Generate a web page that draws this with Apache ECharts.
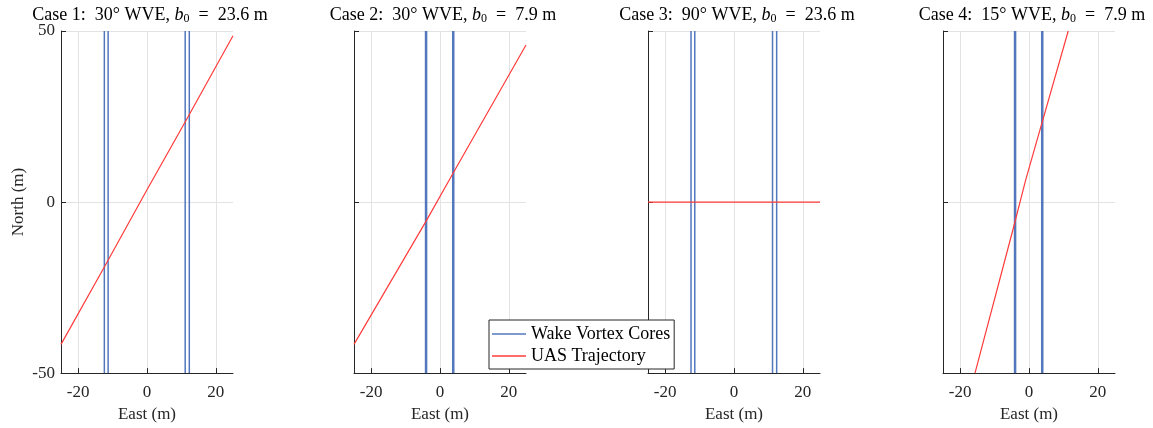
<!DOCTYPE html>
<html>
<head>
    <meta charset="UTF-8">
    <title>WVE cases</title>
    <script src="https://cdn.jsdelivr.net/npm/echarts@6/dist/echarts.min.js"></script>
    <style>
        body { margin: 0; background: #fff; }
        #main { width: 1153px; height: 428px; }
    </style>
</head>
<body>
<div id="main"></div>
<script type="text/javascript">
    // 刻度
    var xTicks = [-20, 0, 20];
    var yTicks = [-50, 0, 50];
    // 标题 (angle, b0)
    var caseAngles = ['30', '30', '90', '15'];
    var caseSpans = ['23.6', '7.9', '23.6', '7.9'];
    // 涡核位置 (East, m)
    var cores1 = [-12.4, -11.3, 11.1, 12.3];
    var cores2 = [-4.2, -3.9, 3.7, 4.0];
    var cores3 = [-12.5, -11.4, 11.2, 12.4];
    var cores4 = [-4.2, -3.9, 3.7, 4.0];
    // UAS 轨迹 [East, North]
    var traj1 = [[-25, -41.6], [-12.2, -18.6], [0, 3.6], [11.7, 24.5], [25, 48.6]];
    var traj2 = [[-25, -41.6], [-4, -5.5], [4, 8.8], [25, 45.9]];
    var traj3 = [[-25, 0], [25, 0]];
    var traj4 = [[-15.7, -50], [-4.6, -7.8], [-0.9, 6.7], [11.4, 50]];

    var coresAll = [cores1, cores2, cores3, cores4];
    var trajAll = [traj1, traj2, traj3, traj4];
    var gridLefts = [61, 354, 648, 943];

    var font = '"Liberation Serif", "DejaVu Serif", serif';
    var ink = '#262626';
    var blue = '#5277bd';
    var red = '#ff3b3b';

    var chart = echarts.init(document.getElementById('main'));

    var grids = [], xAxes = [], yAxes = [], titles = [], series = [];
    for (var i = 0; i < 4; i++) {
        grids.push({left: gridLefts[i], top: 31, width: 172, height: 346});
        titles.push({
            text: '{n|Case ' + (i + 1) + ':  ' + caseAngles[i] + '° WVE, }{i|b}{s|0}{n|  =  ' + caseSpans[i] + ' m}',
            left: gridLefts[i] + 84,
            textAlign: 'center',
            top: 1,
            textStyle: {
                fontWeight: 'normal',
                rich: {
                    n: {fontFamily: font, fontSize: 18, fontWeight: 'normal', color: '#000'},
                    i: {fontFamily: font, fontSize: 18, fontWeight: 'normal', fontStyle: 'italic', color: '#000'},
                    s: {fontFamily: font, fontSize: 12, fontWeight: 'normal', color: '#000', padding: [7, 0, 0, 0]}
                }
            }
        });
        xAxes.push({
            gridIndex: i,
            type: 'value',
            min: -25,
            max: 25,
            name: 'East (m)',
            nameLocation: 'middle',
            nameGap: 28,
            nameTextStyle: {fontFamily: font, fontSize: 17, color: ink},
            axisLine: {show: true, onZero: false, lineStyle: {color: ink, width: 1}},
            axisTick: {show: true, inside: true, length: 5, customValues: xTicks, lineStyle: {color: ink}},
            axisLabel: {show: true, customValues: xTicks, margin: 11, fontFamily: font, fontSize: 17, color: ink},
            splitLine: {show: true, lineStyle: {color: '#e3e3e3', width: 1}}
        });
        yAxes.push({
            gridIndex: i,
            type: 'value',
            min: -50,
            max: 50,
            interval: 50,
            name: i === 0 ? 'North (m)' : '',
            nameLocation: 'middle',
            nameGap: 34,
            nameTextStyle: {fontFamily: font, fontSize: 17, color: ink},
            axisLine: {show: true, onZero: false, lineStyle: {color: ink, width: 1}},
            axisTick: {show: true, inside: true, length: 5, lineStyle: {color: ink}},
            axisLabel: {show: i === 0, margin: 6, fontFamily: font, fontSize: 17, color: ink},
            splitLine: {show: true, lineStyle: {color: '#e3e3e3', width: 1}}
        });
        // 涡核竖线
        for (var k = 0; k < coresAll[i].length; k++) {
            var cx = coresAll[i][k];
            series.push({
                name: 'Wake Vortex Cores',
                type: 'line',
                xAxisIndex: i,
                yAxisIndex: i,
                symbol: 'none',
                silent: true,
                lineStyle: {color: blue, width: 1.5},
                itemStyle: {color: blue},
                data: [[cx, -50], [cx, 50]]
            });
        }
    }
    for (var j = 0; j < 4; j++) {
        series.push({
            name: 'UAS Trajectory',
            type: 'line',
            xAxisIndex: j,
            yAxisIndex: j,
            symbol: 'none',
            silent: true,
            z: 3,
            lineStyle: {color: red, width: 1.2},
            itemStyle: {color: red},
            data: trajAll[j]
        });
    }

    var option = {
        animation: false,
        backgroundColor: '#fff',
        title: titles,
        legend: {
            data: [
                {name: 'Wake Vortex Cores', icon: 'rect', itemStyle: {color: blue}},
                {name: 'UAS Trajectory', icon: 'rect', itemStyle: {color: red}}
            ],
            orient: 'vertical',
            left: 489,
            top: 320,
            itemWidth: 34,
            itemHeight: 1.5,
            itemGap: 2,
            padding: [4, 4, 3, 3],
            borderColor: ink,
            borderWidth: 1,
            backgroundColor: '#fff',
            textStyle: {fontFamily: font, fontSize: 18, color: '#000', lineHeight: 20}
        },
        grid: grids,
        xAxis: xAxes,
        yAxis: yAxes,
        series: series
    };
    chart.setOption(option);
</script>
</body>
</html>
